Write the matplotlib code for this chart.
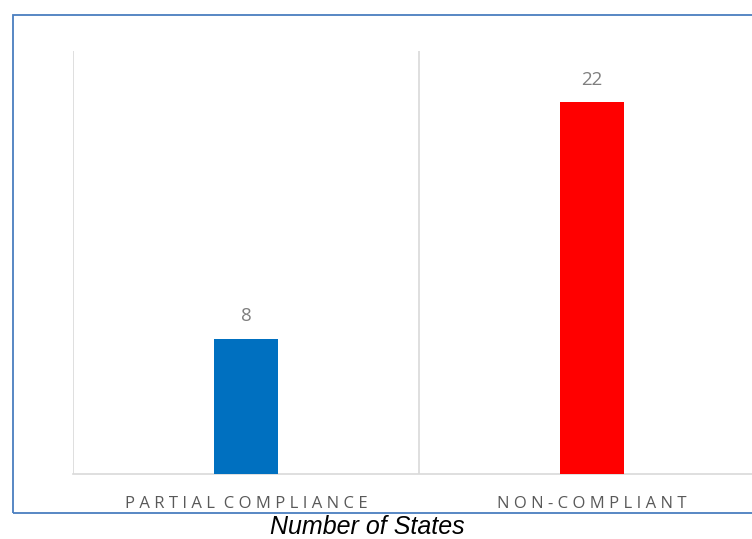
import matplotlib.pyplot as plt
from matplotlib.patches import Rectangle

# data
categories = ['PARTIAL COMPLIANCE', 'NON-COMPLIANT']
values = [8, 22]
colors = ['#0070C0', '#FF0000']

plt.rcParams['font.family'] = ['Open Sans', 'DejaVu Sans']

fig = plt.figure(figsize=(7.52, 5.39), dpi=100)
W, H = 752, 539
ax = fig.add_axes([73 / W, (H - 474) / H, (765 - 73) / W, (474 - 51) / H])

x = list(range(len(categories)))
bars = ax.bar(x, values, width=0.185, color=colors, zorder=3)

ax.set_xlim(-0.5, 1.5)
ax.set_ylim(0, 25)

# category separators
for gx in [-0.5, 0.5, 1.5]:
    ax.axvline(gx, color='#d9d9d9', lw=1.2, zorder=1)

for s in ['top', 'right', 'left']:
    ax.spines[s].set_visible(False)
ax.spines['bottom'].set_color('#d9d9d9')
ax.spines['bottom'].set_linewidth(1.2)
ax.set_yticks([])
ax.set_xticks([])

# letter-spaced category labels
for xi, lab in zip(x, categories):
    spaced = '\u2009\u200a'.join(lab).replace('\u2009\u200a \u2009\u200a', '\u2009\u200a ')
    ax.text(xi, -1.75, spaced, ha='center', va='center', fontsize=12,
            color='#595959')

# value labels
for b, v in zip(bars, values):
    ax.annotate(str(v), (b.get_x() + b.get_width() / 2, v), xytext=(0, 16),
                textcoords='offset points', ha='center', va='center',
                fontsize=13.5, color='#7f7f7f')

# outer frame
fig.patches.append(Rectangle((12.5 / W, (H - 513) / H), 0.99, (513 - 14.5) / H,
                             transform=fig.transFigure, fill=False,
                             edgecolor='#4a7ebf', lw=1.3))

fig.text(367 / W, (H - 527) / H, 'Number of States', ha='center', va='center',
         fontsize=18, style='italic', family=['Liberation Sans'])

fig.savefig('out.png', dpi=100)
